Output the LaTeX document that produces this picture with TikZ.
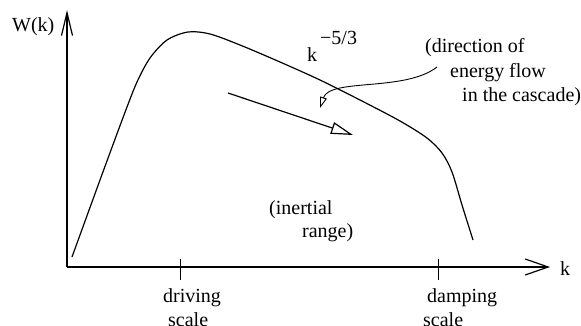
\documentclass[tikz,border=0pt]{standalone}
\usepackage{fontspec}
\setmainfont{Liberation Serif}
\usetikzlibrary{arrows.meta,positioning}
\tikzset{
  lbl/.style={font=\fontsize{20}{25}\selectfont,inner sep=0pt,anchor=base west},
  axis/.style={line width=1.2pt},
  tick/.style={line width=0.9pt}
}

\begin{document}
\begin{tikzpicture}[x=1pt,y=-1pt]
\useasboundingbox (0,0) rectangle (581,326);
\coordinate (O) at (67,267);
\coordinate (ytop) at (67,10);
\coordinate (xend) at (550,267);
\draw[axis,-{Straight Barb[length=23pt,width=11pt,line width=1.2pt]}] (O)--(ytop);
\draw[axis,-{Straight Barb[length=23pt,width=16pt,line width=1.2pt]}] (O)--(xend);
\node[lbl] (W) at (12,32) {W(k)};
\node[lbl] (k) at (560,275) {k};
\coordinate (drv) at (180,267);
\coordinate (dmp) at (438,267);
\draw[tick] ([yshift=-13pt]drv)--([yshift=8pt]drv);
\draw[tick] ([yshift=-13pt]dmp)--([yshift=8pt]dmp);
\node[lbl] (drv1) at (163,302) {driving};
\node[lbl] (drv2) at (168,326) {scale};
\node[lbl] (dmp1) at (427,302) {damping};
\node[lbl] (dmp2) at (423,326) {scale};
\draw[line width=1.2pt] plot[smooth,tension=0.5] coordinates {
  (72,257) (100,180) (124,115) (137,82) (150,58) (167,40) (188,32)
  (210,34) (240,45) (280,62) (320,80) (360,100) (400,121) (427,138)
  (442,153) (452,172) (462,205) (473,240)};
\node[lbl] (kk) at (307,62) {k};
\node[lbl] (ex) at (320,45) {−5/3};
\coordinate (fs) at (228,93);
\coordinate (fe) at (353,135);
\draw[line width=1.2pt,-{Triangle[open,length=22pt,width=12pt,line width=1.2pt]}] (fs)--(fe);
\node[lbl] (dir1) at (425,53) {(direction of};
\node[lbl] (dir2) at (450,78) {energy flow};
\node[lbl] (dir3) at (462,102) {in the cascade)};
\coordinate (ps) at (437,67);
\coordinate (pe) at (320,108);
\draw[line width=0.9pt,-{Triangle[open,length=11pt,width=7pt,line width=0.9pt]}]
  (ps) .. controls (405,92) and (330,78) .. (pe);
\node[lbl] (in1) at (269,214) {(inertial};
\node[lbl] (in2) at (302,237) {range)};
\end{tikzpicture}
\end{document}
